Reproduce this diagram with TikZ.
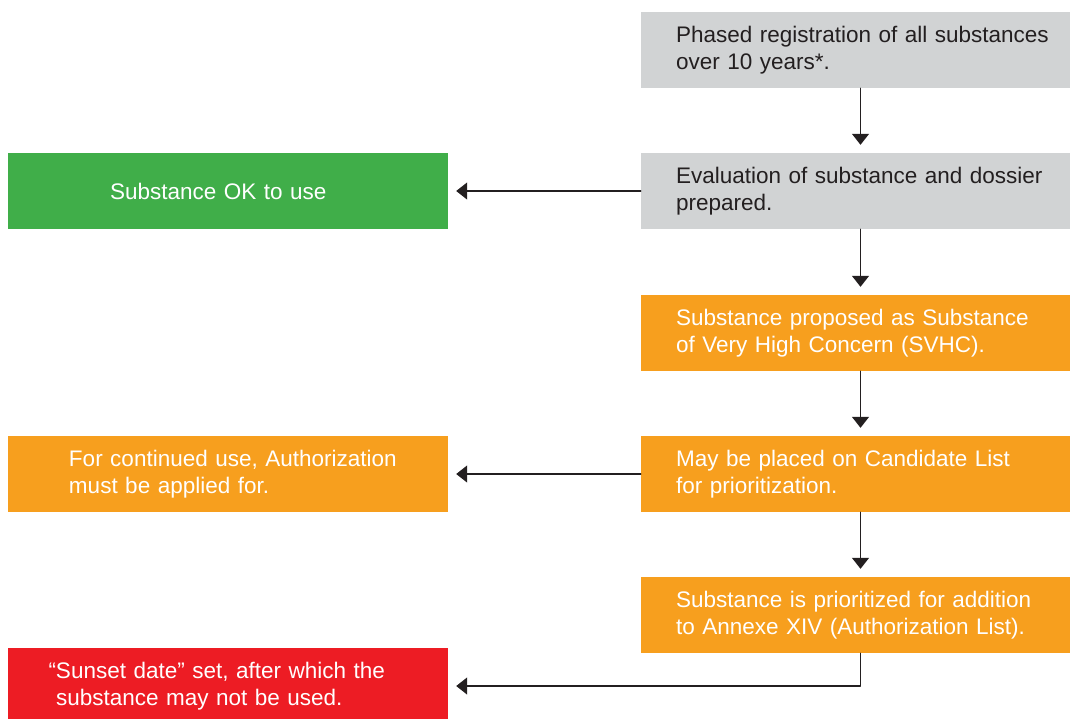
\documentclass[tikz,border=0pt]{standalone}
\usepackage{fontspec}
\setmainfont{Liberation Sans}
\usetikzlibrary{arrows.meta}
\definecolor{boxgray}{RGB}{209,211,212}
\definecolor{okgreen}{RGB}{64,174,73}
\definecolor{svhcorange}{RGB}{247,159,30}
\definecolor{sunsetred}{RGB}{237,28,36}
\definecolor{inkgray}{RGB}{35,31,32}

\begin{document}
\begin{tikzpicture}[x=1pt, y=-1pt, line cap=round, line join=round, >={Triangle[length=11pt,width=17pt]},
		stepbox/.style={minimum width=429pt, text width=429pt, minimum height=76pt, inner sep=0pt, align=left, font=\fontsize{22.5}{27}\selectfont},
		resultbox/.style={stepbox, minimum width=440pt, text width=440pt, text=white},
		inset/.style={execute at begin node={\leftskip=#1}},
		link/.style={->, draw=inkgray, line width=1.3pt, shorten >=8pt}]
			\clip (0,0) rectangle (1070,718);
			\node [stepbox, inset=35pt, fill=boxgray, text=inkgray] (reg) at (855.5,50) {Phased registration of all substances\\over 10 years*.};
			\node [stepbox, inset=35pt, fill=boxgray, text=inkgray] (eval) at (855.5,191) {Evaluation of substance and dossier\\prepared.};
			\node [stepbox, inset=35pt, fill=svhcorange, text=white] (svhc) at (855.5,333) {Substance proposed as Substance\\of Very High Concern (SVHC).};
			\node [stepbox, inset=35pt, fill=svhcorange, text=white] (cand) at (855.5,474) {May be placed on Candidate List\\for prioritization.};
			\node [stepbox, inset=35pt, fill=svhcorange, text=white] (prio) at (855.5,615) {Substance is prioritized for addition\\to Annexe XIV (Authorization List).};
			\node [resultbox, inset=102pt, fill=okgreen] (ok) at (228,191) {Substance OK to use};
			\node [resultbox, inset=61pt, fill=svhcorange] (apply) at (228,474) {For continued use, Authorization\\must be applied for.};
			\node [resultbox, inset=48pt, fill=sunsetred] (sunset) at (228,686) {\llap{“}Sunset date” set, after which the\\substance may not be used.};
			\draw [link] ([xshift=5pt]reg.south) -- ([xshift=5pt]eval.north);
			\draw [link] ([xshift=5pt]eval.south) -- ([xshift=5pt]svhc.north);
			\draw [link] ([xshift=5pt]svhc.south) -- ([xshift=5pt]cand.north);
			\draw [link] ([xshift=5pt]cand.south) -- ([xshift=5pt]prio.north);
			\draw [link] (eval.west) -- (ok.east);
			\draw [link] (cand.west) -- (apply.east);
			\draw [link] ([xshift=5pt]prio.south) |- (sunset.east);
		\end{tikzpicture}
\end{document}
